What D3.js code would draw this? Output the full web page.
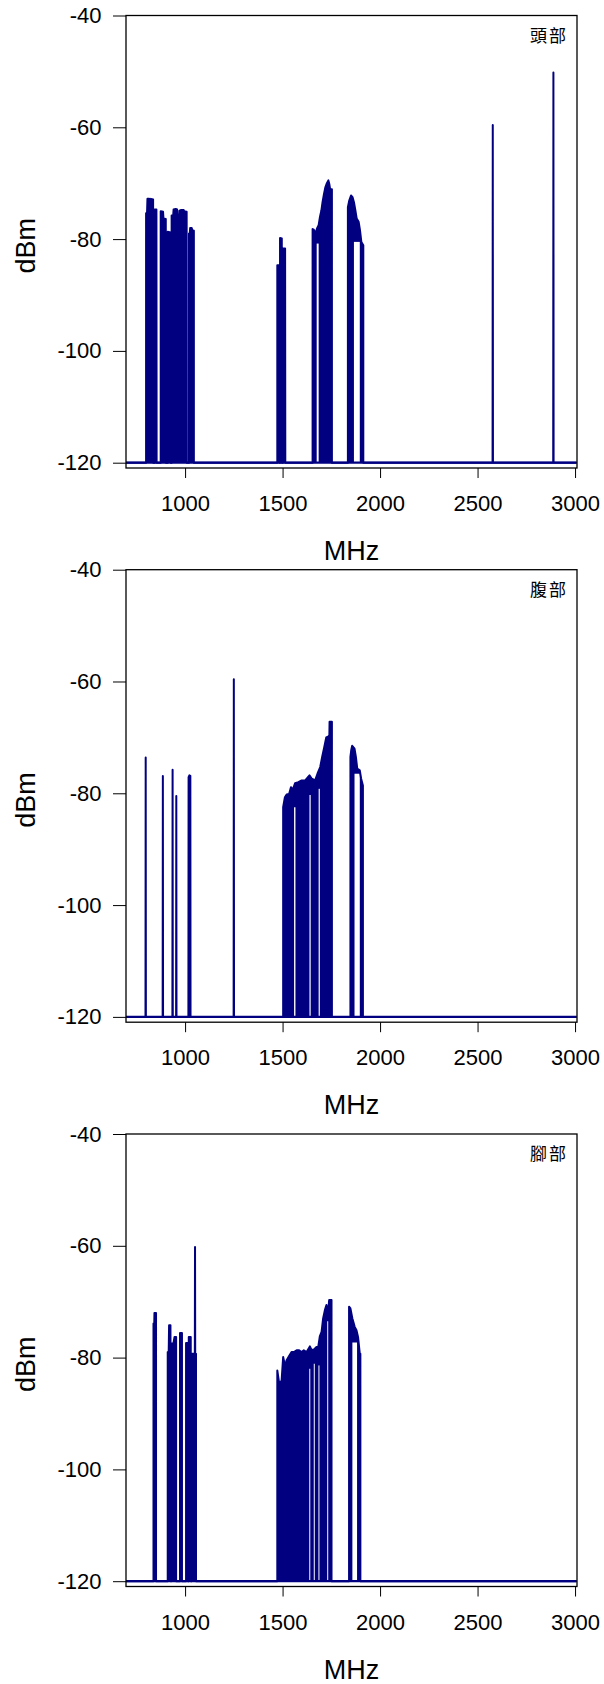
<!DOCTYPE html>
<html>
<head>
<meta charset="utf-8">
<script src="https://cdn.jsdelivr.net/npm/d3@7"></script>
<style>
  body { margin: 0; background: #fff; }
  text { font-family: Arial, "Liberation Sans", sans-serif; fill: #000; }
</style>
</head>
<body>
<svg id="chart"></svg>
<script>
// axis values
const xTicks = [1000, 1500, 2000, 2500, 3000];
const yTicks = [-40, -60, -80, -100, -120];
const floorDbm = -120;

// head (頭部) sweep: [MHz, dBm]
const headTrace = [
  [697,-120],
  [800,-120],[800,-75.4],[805,-75.2],[807,-72.8],[816,-72.8],[818,-74.3],[823,-74.3],[825,-72.8],[836,-72.9],[837,-120],
  [844,-120],[844,-74.7],[853,-74.7],[854,-120],
  [875,-120],[875,-75.0],[887,-75.1],[889,-76.3],[901,-76.4],[902,-120],
  [911,-120],[911,-78.7],[926,-78.8],[927,-120],
  [931,-120],[931,-75.8],[939,-75.8],[941,-74.7],[952,-74.6],[959,-74.7],[961,-76.6],[969,-76.6],[971,-74.9],[980,-74.8],[993,-74.8],[995,-75.0],[1008,-75.1],[1009,-120],
  [1020,-120],[1020,-79.0],[1024,-79.0],[1026,-78.0],[1034,-78.0],[1037,-78.4],[1045,-78.5],[1045,-120],
  [1473,-120],[1473,-84.7],[1483,-84.7],[1484,-120],[1487,-120],[1487,-79.8],[1496,-79.9],[1497,-120],[1502,-120],[1502,-81.7],[1513,-81.7],[1514,-120],
  [1654,-120],[1654,-78.2],[1660,-78.3],[1666,-79.0],[1672,-78.6],[1678,-78.0],[1685,-77.5],[1692,-76.0],[1699,-74.9],[1705,-73.4],[1712,-72.0],[1719,-70.8],[1726,-70.1],[1735,-69.5],[1740,-70.2],[1744,-71.1],[1753,-71.1],[1753,-120],
  [1835,-120],[1835,-74.3],[1842,-73.1],[1851,-72.2],[1859,-72.5],[1866,-73.4],[1873,-74.8],[1880,-76.3],[1890,-76.9],[1897,-78.4],[1904,-80.5],[1914,-81.1],[1914,-120],
  [2577,-120],[2578,-59.6],[2579,-120],
  [2888,-120],[2889,-50.2],[2890,-120],
  [3008,-120]
];
// white gaps under the envelope: [from MHz, to MHz, top dBm]
const headGaps = [[1675,1685,-80.8],[1866,1896,-80.5]];

// abdomen (腹部)
const bellyTrace = [
  [697,-120],
  [797,-120],[798,-73.6],[799,-120],
  [885,-120],[886,-76.9],[887,-120],
  [935,-120],[936,-75.8],[937,-120],
  [954,-120],[955,-80.5],[956,-120],
  [1017,-120],[1018,-77.1],[1022,-76.8],[1027,-76.9],[1028,-120],
  [1249,-120],[1250,-59.6],[1251,-120],
  [1503,-120],[1503,-82.5],[1512,-80.7],[1521,-80.2],[1534,-80.1],[1543,-78.9],[1552,-79.4],[1564,-78.2],[1581,-78.0],[1598,-77.7],[1616,-77.7],[1638,-76.8],[1650,-77.4],[1667,-77.7],[1679,-76.5],[1693,-75.3],[1703,-73.5],[1714,-71.7],[1724,-70.0],[1736,-69.8],[1740,-69.6],[1741,-67.2],[1753,-67.2],[1753,-120],
  [1848,-120],[1848,-73.5],[1852,-72.3],[1857,-71.5],[1864,-71.8],[1869,-72.0],[1876,-73.5],[1883,-75.6],[1896,-75.9],[1903,-77.4],[1912,-78.6],[1912,-120],
  [3008,-120]
];
const bellyGaps = [[1559,1566,-82.5],[1638,1644,-80.3],[1685,1691,-79.2],[1869,1896,-76.5]];

// foot (腳部)
const footTrace = [
  [697,-120],
  [838,-120],[838,-73.9],[842,-73.9],[843,-72.0],[851,-72.0],[851,-120],
  [911,-120],[911,-79.0],[916,-79.0],[918,-74.2],[925,-74.2],[927,-120],[929,-120],[929,-77.5],[940,-77.5],[946,-76.3],[954,-76.3],[954,-120],
  [974,-120],[974,-75.6],[984,-75.6],[984,-120],
  [1005,-120],[1005,-77.4],[1015,-77.4],[1015,-120],
  [1019,-120],[1019,-76.3],[1029,-76.3],[1030,-120],
  [1034,-120],[1034,-79.3],[1050,-79.3],[1051,-60.2],[1052,-79.3],[1056,-79.3],[1056,-120],
  [1473,-120],[1473,-82.3],[1483,-84.7],[1495,-84.1],[1503,-79.9],[1514,-81.7],[1520,-80.5],[1532,-79.8],[1546,-79.0],[1558,-79.0],[1572,-78.7],[1585,-78.7],[1597,-79.0],[1609,-78.7],[1623,-79.0],[1640,-78.0],[1648,-78.6],[1660,-78.6],[1674,-78.1],[1683,-78.1],[1691,-76.2],[1700,-75.4],[1708,-73.0],[1717,-71.5],[1725,-70.6],[1733,-72.0],[1739,-69.7],[1751,-69.7],[1751,-120],
  [1841,-120],[1841,-70.9],[1848,-71.2],[1858,-73.0],[1870,-74.5],[1879,-75.1],[1887,-76.3],[1896,-79.3],[1899,-79.3],[1899,-120],
  [3008,-120]
];
const footGaps = [[1637,1642,-82.0],[1660,1665,-81.1],[1684,1689,-81.4],[1729,1734,-73.5],[1858,1882,-77.3]];

const panels = [
  { name: "頭部", trace: headTrace, gaps: headGaps, top: 15.5 },
  { name: "腹部", trace: bellyTrace, gaps: bellyGaps, top: 569.7 },
  { name: "腳部", trace: footTrace, gaps: footGaps, top: 1134 }
];

const W = 604, H = 1684;
const left = 126, right = 577, plotH = 452.5;
const navy = "#000080";

const svg = d3.select("#chart").attr("width", W).attr("height", H);

const x = d3.scaleLinear().domain([697, 3010]).range([left, right]);
const y = d3.scaleLinear().domain([-120.95, -40]).range([plotH, 0]);

panels.forEach(p => {
  const g = svg.append("g").attr("transform", "translate(0," + p.top + ")");

  // dense sweeps filled under the trace
  g.append("path")
    .datum(p.trace)
    .attr("fill", navy)
    .attr("d", d3.area().x(d => x(d[0])).y0(y(floorDbm)).y1(d => y(d[1])));

  g.selectAll(".gap")
    .data(p.gaps)
    .enter()
    .append("rect")
    .attr("fill", "#fff")
    .attr("x", d => x(d[0]))
    .attr("width", d => x(d[1]) - x(d[0]))
    .attr("y", d => y(d[2]))
    .attr("height", d => y(floorDbm) - y(d[2]));

  const line = d3.line().x(d => x(d[0])).y(d => y(d[1]));

  g.append("path")
    .datum([[x.domain()[0], floorDbm], [3008, floorDbm]])
    .attr("fill", "none")
    .attr("stroke", navy)
    .attr("stroke-width", 2.2)
    .attr("d", line);

  g.append("path")
    .datum(p.trace)
    .attr("fill", "none")
    .attr("stroke", navy)
    .attr("stroke-width", 2)
    .attr("stroke-linejoin", "round")
    .attr("d", line);

  // box
  g.append("rect")
    .attr("x", left).attr("y", 0)
    .attr("width", right - left).attr("height", plotH)
    .attr("fill", "none").attr("stroke", "#000").attr("stroke-width", 1.3);

  const yAxis = g.append("g")
    .attr("transform", "translate(" + left + ",0)")
    .call(d3.axisLeft(y).tickValues(yTicks).tickSize(13).tickPadding(11.5).tickFormat(d => String(d)));
  yAxis.select(".domain").remove();
  yAxis.selectAll("text").attr("font-size", 22).attr("font-family", "Arial, 'Liberation Sans', sans-serif");

  const xAxis = g.append("g")
    .attr("transform", "translate(0," + plotH + ")")
    .call(d3.axisBottom(x).tickValues(xTicks).tickSize(10).tickFormat(d => String(d)));
  xAxis.select(".domain").remove();
  xAxis.selectAll("text")
    .attr("font-size", 22)
    .attr("font-family", "Arial, 'Liberation Sans', sans-serif")
    .attr("y", 43).attr("dy", 0);

  g.append("text")
    .attr("x", (left + right) / 2)
    .attr("y", plotH + 92)
    .attr("text-anchor", "middle")
    .attr("font-size", 27)
    .text("MHz");

  g.append("text")
    .attr("transform", "translate(35," + (plotH / 2 + 4) + ") rotate(-90)")
    .attr("text-anchor", "middle")
    .attr("font-size", 27)
    .text("dBm");

  g.append("text")
    .attr("x", 568)
    .attr("y", 26)
    .attr("text-anchor", "end")
    .attr("font-size", 17)
    .attr("letter-spacing", 2)
    .style("font-family", "'Noto Sans CJK TC', sans-serif")
    .text(p.name);
});
</script>
</body>
</html>
